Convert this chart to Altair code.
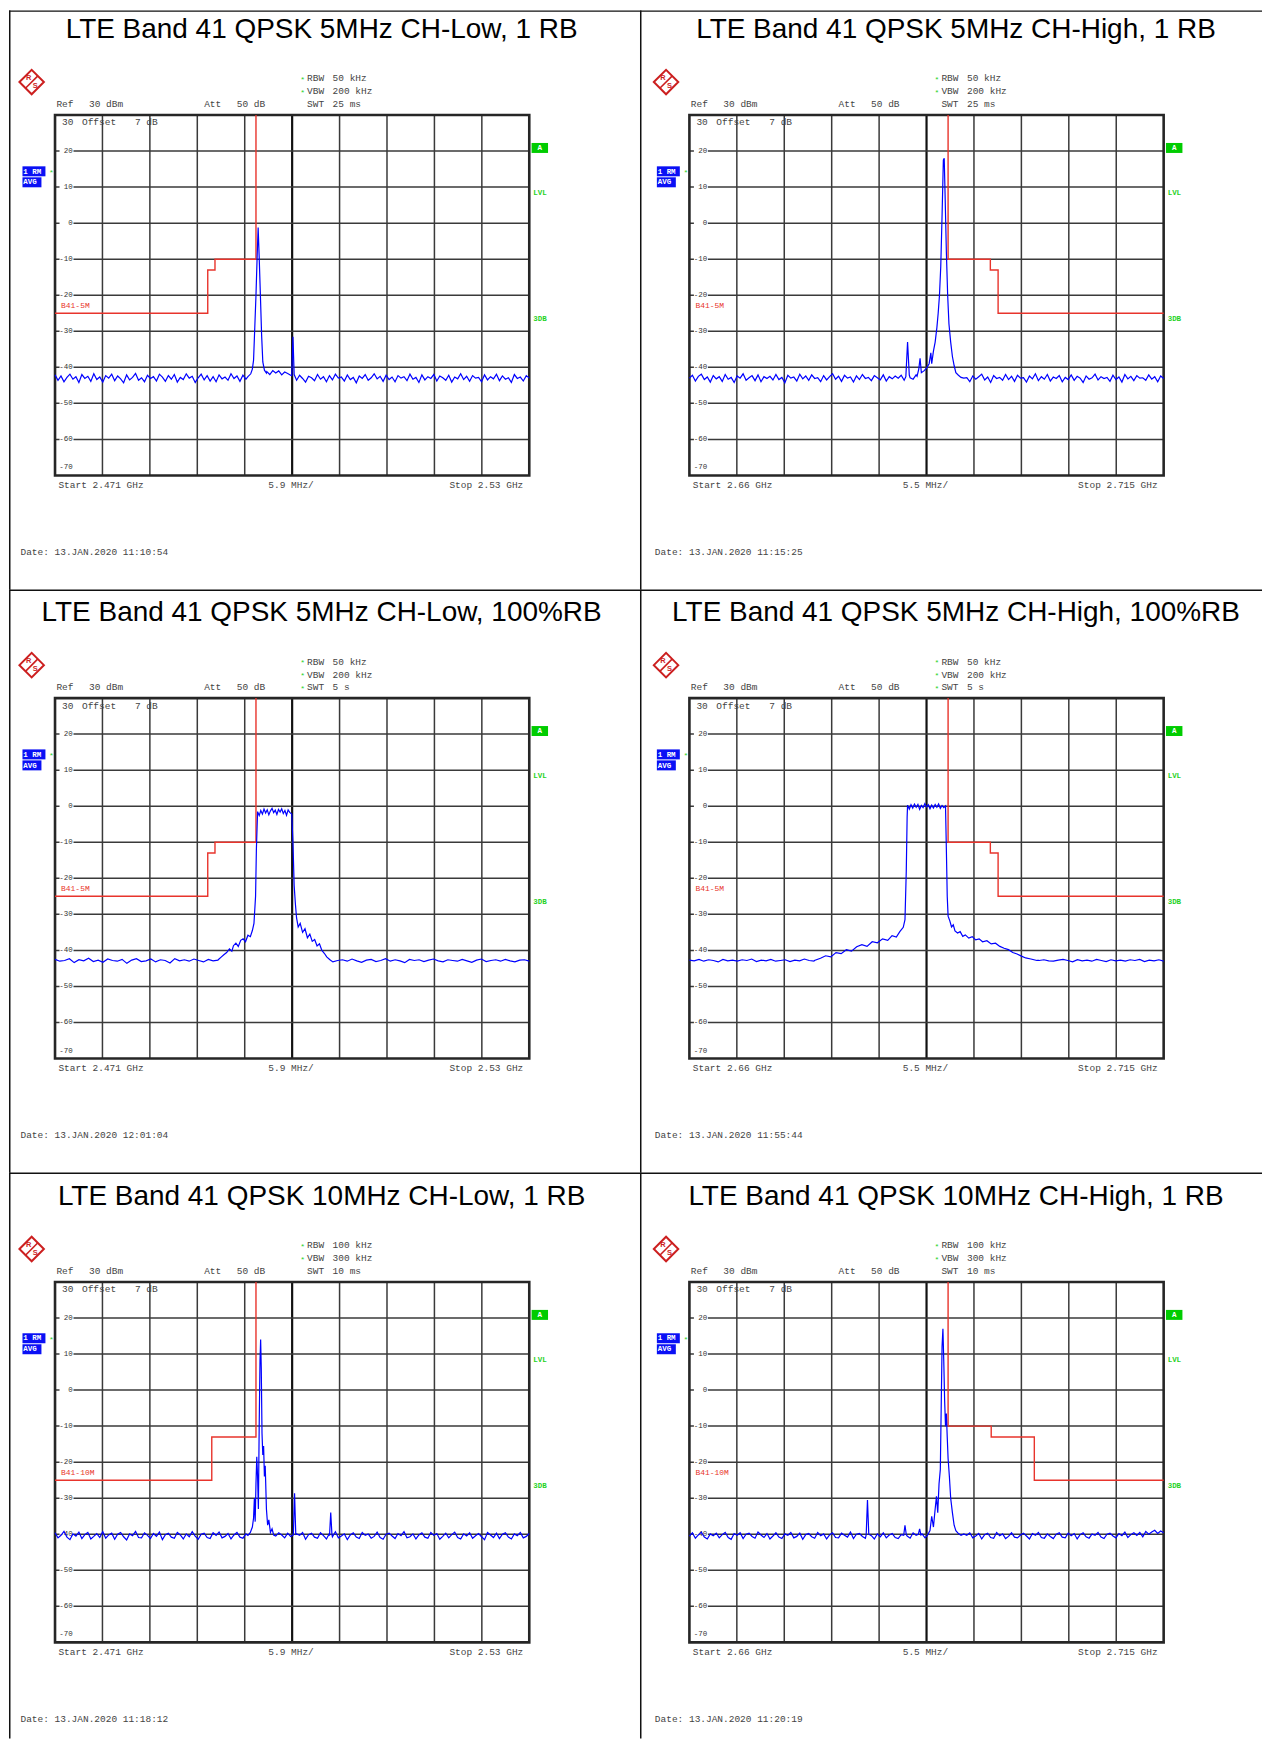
import altair as alt
import pandas as pd

# ---------------- panel texts ----------------
TITLES = [
    "LTE Band 41 QPSK 5MHz CH-Low, 1 RB",
    "LTE Band 41 QPSK 5MHz CH-High, 1 RB",
    "LTE Band 41 QPSK 5MHz CH-Low, 100%RB",
    "LTE Band 41 QPSK 5MHz CH-High, 100%RB",
    "LTE Band 41 QPSK 10MHz CH-Low, 1 RB",
    "LTE Band 41 QPSK 10MHz CH-High, 1 RB",
]
F_START = [2471, 2660, 2471, 2660, 2471, 2660]   # MHz
F_STOP = [2530, 2715, 2530, 2715, 2530, 2715]    # MHz
START_TXT = ["Start 2.471 GHz", "Start 2.66 GHz"] * 3
STOP_TXT = ["Stop 2.53 GHz", "Stop 2.715 GHz"] * 3
SPAN_TXT = ["5.9 MHz/", "5.5 MHz/"] * 3
RBW_TXT = ["50 kHz", "50 kHz", "50 kHz", "50 kHz", "100 kHz", "100 kHz"]
VBW_TXT = ["200 kHz", "200 kHz", "200 kHz", "200 kHz", "300 kHz", "300 kHz"]
SWT_TXT = ["25 ms", "25 ms", "5 s", "5 s", "10 ms", "10 ms"]
SWT_STAR = [False, False, True, True, False, False]
DATE_TXT = [
    "Date: 13.JAN.2020  11:10:54",
    "Date: 13.JAN.2020  11:15:25",
    "Date: 13.JAN.2020  12:01:04",
    "Date: 13.JAN.2020  11:55:44",
    "Date: 13.JAN.2020  11:18:12",
    "Date: 13.JAN.2020  11:20:19",
]
LIMIT_NAME = ["B41-5M", "B41-5M", "B41-5M", "B41-5M", "B41-10M", "B41-10M"]
Y_TICKS = [30, 20, 10, 0, -10, -20, -30, -40, -50, -60, -70]

# ---------------- limit lines ----------------
LOW5_F = [2471, 2490.0, 2490.0, 2490.9, 2490.9, 2496.0, 2496.0]
LOW5_DB = [-25, -25, -13, -13, -10, -10, 30]
HIGH5_F = [2690.0, 2690.0, 2694.9, 2694.9, 2695.8, 2695.8, 2715]
HIGH5_DB = [30, -10, -10, -13, -13, -25, -25]
LOW10_F = [2471, 2490.5, 2490.5, 2496.0, 2496.0]
LOW10_DB = [-25, -25, -13, -13, 30]
HIGH10_F = [2690.0, 2690.0, 2695.0, 2695.0, 2700.0, 2700.0, 2715]
HIGH10_DB = [30, -10, -10, -13, -13, -25, -25]

# ---------------- traces: noise floors (uniform sweep points, dBm) ----------------
P1_FLOOR = [
    -42.1, -43.6, -42.4, -44.0, -42.8, -41.9, -43.3, -42.6, -44.2, -42.0,
    -43.1, -42.5, -43.9, -41.8, -43.4, -42.7, -44.1, -42.3, -43.0, -41.9,
    -43.7, -42.4, -43.2, -44.3, -42.1, -43.5, -42.8, -41.7, -43.6, -42.9,
    -44.0, -42.2, -43.1, -42.6, -43.8, -41.9, -42.7, -43.9, -42.3, -43.3,
    -42.0, -44.1, -42.8, -43.4, -41.8, -43.0, -42.5, -44.2, -42.9, -41.9,
    -43.5, -42.3, -43.8, -42.6, -44.0, -42.1, -43.2, -42.7, -43.6, -41.8,
    -43.1, -42.4, -43.9, -42.2, -43.3, -42.8, -41.9, -43.5, -42.6, -43.0,
    -41.8, -41.2, -42.0, -40.9, -41.6, -41.0, -42.1, -41.3, -41.7, -42.2,
    -42.9, -43.6, -42.2, -43.1, -44.1, -42.5, -42.9, -43.7, -42.0, -43.3,
    -42.6, -44.0, -42.3, -43.5, -41.9, -43.0, -42.7, -43.8, -42.1, -43.4,
    -42.8, -44.3, -42.4, -43.1, -42.0, -43.6, -42.9, -41.8, -43.2, -42.5,
    -43.9, -42.2, -43.4, -42.7, -44.0, -42.3, -43.0, -42.6, -43.7, -41.9,
    -43.3, -42.8, -44.2, -42.1, -43.5, -42.6, -43.1, -42.0, -43.8, -42.4,
    -42.9, -43.6, -42.2, -44.1, -42.7, -43.2, -41.8, -43.4, -42.5, -43.9,
    -42.3, -43.0, -42.8, -44.0, -42.1, -43.5, -42.6, -43.2, -41.9, -43.7,
    -42.4, -43.3, -42.9, -44.2, -42.0, -43.1, -42.7, -43.8, -42.3, -43.0,
]
P2_FLOOR = [
    -43.0, -42.2, -43.8, -42.5, -41.9, -43.4, -42.7, -44.1, -42.3, -43.2,
    -42.6, -43.9, -42.0, -43.3, -42.8, -44.2, -42.4, -43.0, -41.8, -43.6,
    -42.9, -42.3, -43.7, -42.1, -44.0, -42.6, -43.1, -42.5, -43.5, -42.0,
    -43.4, -42.8, -44.3, -42.2, -43.0, -42.7, -43.8, -41.9, -43.2, -42.4,
    -43.6, -42.1, -43.1, -42.9, -44.0, -42.3, -43.5, -42.6, -41.8, -43.3,
    -42.5, -43.9, -42.2, -43.0, -42.7, -44.1, -42.4, -43.4, -42.0, -43.1,
    -42.8, -43.7, -42.3, -42.9, -43.5, -42.1, -43.8, -42.6, -43.2, -42.4,
    -43.0, -42.2, -43.6, -42.7, -42.9, -43.3, -42.1, -43.7, -42.5, -43.0,
    -42.6, -43.4, -42.8, -42.2, -43.1, -42.7, -43.9, -42.3, -43.2, -42.5,
    -43.8, -42.1, -43.0, -42.9, -44.0, -42.4, -43.3, -42.6, -41.9, -43.5,
    -42.7, -44.2, -42.3, -43.1, -42.8, -43.6, -42.0, -43.4, -42.5, -43.9,
    -42.2, -43.0, -42.9, -44.1, -42.4, -43.2, -41.8, -43.7, -42.6, -43.3,
    -42.0, -43.8, -42.7, -43.1, -42.3, -44.0, -42.8, -43.4, -42.1, -43.6,
    -42.5, -43.0, -44.2, -42.4, -43.3, -42.9, -41.9, -43.5, -42.6, -43.1,
    -42.8, -43.9, -42.2, -43.4, -42.7, -44.1, -42.0, -43.2, -42.5, -43.7,
    -42.3, -43.0, -42.9, -43.6, -42.1, -43.3, -42.6, -44.0, -42.4, -43.1,
]
P3_FLOOR = [
    -42.5, -43.0, -42.8, -42.3, -43.4, -42.6, -42.9, -42.2, -43.1, -42.7,
    -43.3, -42.4, -42.8, -43.0, -42.5, -43.6, -42.7, -42.3, -43.1, -42.9,
    -42.4, -43.2, -42.6, -42.8, -43.5, -42.3, -42.9, -42.6, -43.0, -42.4,
    -42.8, -43.2, -42.5, -42.9, -42.7, -43.1, -42.4, -42.8, -43.3, -42.6,
    -42.9, -42.5, -43.0, -42.7, -42.4, -43.2, -42.8, -42.6, -43.1, -42.5,
    -42.8, -43.3, -42.6, -42.9, -42.4, -43.0, -42.7, -42.5, -43.2, -42.8,
    -42.6, -43.0, -42.4, -42.9, -43.3, -42.7, -42.5, -43.1, -42.8, -42.3,
    -43.0, -42.6, -42.9, -43.4, -42.5, -42.8, -42.6, -43.1, -42.7, -42.4,
    -42.9, -43.2, -42.6, -42.8, -43.0, -42.5, -42.9, -43.3, -42.7, -42.4,
    -43.1, -42.8, -42.6, -43.0, -42.5, -42.9, -43.2, -42.7, -42.6, -43.0,
]
P4_FLOOR = [
    -42.7, -42.9, -42.5, -43.0, -42.6, -42.8, -43.2, -42.5, -42.9, -42.7,
    -43.0, -42.6, -42.8, -42.4, -43.1, -42.7, -42.9, -42.5, -43.0, -42.8,
    -42.6, -43.1, -42.7, -42.9, -42.4, -42.8, -43.0, -42.6, -42.9, -42.5,
    -43.2, -42.7, -42.8, -42.6, -43.0, -42.5, -42.9, -42.7, -43.1, -42.6,
    -42.8, -42.4, -43.0, -42.7, -42.9, -42.5, -42.8, -43.1, -42.6, -42.9,
    -42.7, -43.0, -42.5, -42.8, -42.6, -43.2, -42.7, -42.9, -42.4, -42.8,
    -43.0, -42.6, -42.9, -42.7, -43.1, -42.5, -42.8, -42.6, -43.0, -42.7,
    -42.9, -42.5, -43.1, -42.8, -42.6, -42.9, -43.0, -42.7, -42.5, -42.8,
    -43.2, -42.6, -42.9, -42.7, -43.0, -42.5, -42.8, -43.1, -42.6, -42.9,
    -42.7, -43.0, -42.6, -42.8, -42.5, -43.1, -42.7, -42.9, -42.6, -43.0,
]
P5_FLOOR = [
    -39.6, -41.0, -40.3, -39.2, -40.8, -41.5, -39.9, -40.5, -39.4, -41.2,
    -40.1, -39.5, -41.3, -40.6, -39.8, -40.9, -39.3, -41.1, -40.2, -39.7,
    -41.4, -40.0, -39.5, -40.7, -41.6, -39.9, -40.4, -39.2, -40.9, -41.0,
    -39.6, -40.3, -41.2, -39.8, -40.6, -39.4, -41.5, -40.1, -39.7, -40.8,
    -41.1, -39.5, -40.2, -41.3, -39.9, -40.7, -39.3, -40.5, -41.4, -40.0,
    -39.7, -40.9, -41.2, -39.6, -40.3, -39.4, -41.0, -40.6, -39.8, -41.3,
    -40.2, -39.5, -40.8, -41.1, -39.9, -40.4, -39.6, -41.2, -40.0, -40.7,
    -39.4, -40.9, -41.3, -39.8, -40.5, -39.6, -40.2, -41.0, -39.7, -40.6,
    -41.2, -39.9, -40.3, -39.5, -41.4, -40.1, -39.7, -40.8, -41.1, -39.6,
    -40.4, -41.3, -39.8, -40.7, -39.3, -41.0, -40.5, -39.9, -41.5, -40.2,
    -39.6, -40.8, -41.2, -39.5, -40.3, -39.9, -41.1, -40.6, -39.4, -40.9,
    -41.4, -40.0, -39.7, -40.5, -41.2, -39.8, -40.4, -39.3, -41.0, -40.7,
    -39.9, -41.3, -40.2, -39.6, -40.8, -41.1, -39.5, -40.3, -39.8, -41.4,
    -40.6, -39.7, -41.0, -40.1, -39.4, -40.9, -41.3, -39.9, -40.5, -39.6,
    -41.1, -40.4, -39.8, -40.7, -41.5, -39.5, -40.2, -40.9, -39.7, -41.2,
    -40.0, -39.6, -40.8, -41.3, -39.9, -40.4, -39.5, -41.0, -40.6, -39.8,
]
P6_FLOOR = [
    -40.5, -39.6, -41.1, -40.2, -39.4, -40.8, -41.3, -39.9, -40.4, -39.7,
    -41.0, -40.1, -39.5, -40.9, -41.4, -39.8, -40.3, -39.6, -41.2, -40.0,
    -39.7, -40.6, -41.1, -39.4, -40.2, -40.9, -39.8, -41.3, -40.5, -39.6,
    -40.8, -41.2, -39.9, -40.3, -39.5, -41.0, -40.6, -39.7, -41.4, -40.1,
    -39.8, -40.7, -41.1, -39.5, -40.4, -39.9, -41.3, -40.2, -39.6, -40.9,
    -41.0, -39.7, -40.3, -40.8, -39.4, -41.2, -40.0, -39.8, -40.6, -41.1,
    -39.5, -40.4, -41.3, -39.9, -40.7, -39.6, -41.0, -40.2, -39.8, -40.9,
    -41.2, -40.1, -39.7, -40.5, -41.1, -39.6, -40.3, -40.8, -39.9, -41.0,
    -40.2, -39.6, -40.9, -41.3, -40.0, -39.7, -40.6, -41.1, -39.5, -40.4,
    -40.8, -41.2, -39.9, -40.3, -39.6, -41.0, -40.5, -39.8, -41.3, -40.1,
    -39.7, -40.9, -41.1, -39.5, -40.4, -39.9, -41.2, -40.6, -39.6, -40.8,
    -41.0, -40.2, -39.7, -40.5, -41.3, -39.8, -40.3, -39.5, -40.9, -41.1,
    -39.9, -40.6, -41.2, -40.0, -39.6, -40.8, -41.0, -39.7, -40.4, -39.8,
    -41.3, -40.1, -39.6, -40.7, -41.1, -39.9, -40.3, -39.5, -40.8, -41.2,
    -40.0, -39.7, -40.5, -41.0, -39.8, -40.4, -39.4, -40.9, -40.1, -39.6,
    -40.3, -39.5, -40.7, -39.2, -40.0, -39.4, -38.9, -39.8, -39.1, -39.6,
]

# ---------------- traces: signal segments (freq MHz, level dBm) ----------------
P1_PEAK_F = [2495.0, 2495.35, 2495.55, 2495.7, 2495.85, 2496.0, 2496.15, 2496.27,
             2496.4, 2496.55, 2496.7, 2496.85, 2497.05, 2497.3]
P1_PEAK_DB = [-42.6, -41.8, -40.5, -38.0, -29.0, -20.0, -9.0, -1.2,
              -9.5, -20.0, -31.0, -38.5, -40.8, -41.6]
P1_SPUR_F = [2500.45, 2500.6, 2500.75]
P1_SPUR_DB = [-42.3, -31.5, -42.0]

P2_SPUR_F = [2685.1, 2685.3, 2685.5]
P2_SPUR_DB = [-42.6, -33.0, -42.2]
P2_PEAK_F = [2686.4, 2686.6, 2686.75, 2686.9, 2687.2, 2687.5, 2687.8, 2688.0, 2688.1,
             2688.3, 2688.5, 2688.7, 2688.85, 2689.0, 2689.15, 2689.3, 2689.45, 2689.55,
             2689.65, 2689.8, 2689.95, 2690.1, 2690.3, 2690.5, 2690.7, 2690.9, 2691.2, 2691.5]
P2_PEAK_DB = [-42.5, -40.5, -37.5, -41.5, -41.0, -40.2, -39.0, -36.0, -39.0,
              -35.5, -33.0, -29.0, -25.0, -20.0, -12.0, 2.0, 17.5, 18.0,
              8.0, -8.0, -20.0, -28.0, -33.0, -37.0, -39.5, -41.5, -42.2, -42.8]

P3_SIG_F = [2491.3, 2491.7, 2492.0, 2492.35, 2492.7, 2493.0, 2493.2, 2493.5, 2493.8,
            2494.1, 2494.4, 2494.7, 2495.0, 2495.3, 2495.55, 2495.75, 2495.95, 2496.05,
            2496.2, 2496.4, 2496.6, 2496.8, 2497.0, 2497.2, 2497.4, 2497.6, 2497.8,
            2498.0, 2498.2, 2498.4, 2498.6, 2498.8, 2499.0, 2499.2, 2499.4, 2499.6,
            2499.8, 2500.0, 2500.2, 2500.45, 2500.6, 2500.75, 2500.9, 2501.05, 2501.25,
            2501.5, 2501.8, 2502.1, 2502.4, 2502.7, 2503.0, 2503.3, 2503.6, 2503.9,
            2504.2, 2504.5, 2504.8, 2505.2]
P3_SIG_DB = [-42.6, -41.8, -41.2, -40.6, -39.6, -40.2, -38.7, -38.0, -38.9,
             -37.2, -36.8, -37.6, -35.8, -36.2, -34.5, -32.5, -25.0, -12.0,
             -1.5, -2.6, -1.2, -2.2, -0.8, -1.9, -1.0, -2.4, -1.3,
             -0.6, -1.8, -1.1, -2.3, -0.9, -1.6, -0.7, -2.0, -1.2,
             -2.5, -1.0, -1.7, -2.2, -10.0, -22.0, -27.0, -31.0, -33.5,
             -32.5, -35.0, -34.0, -36.5, -35.5, -37.5, -37.0, -38.8, -38.2,
             -40.0, -40.8, -41.8, -42.6]

P4_SIG_F = [2674.5, 2675.2, 2675.8, 2676.4, 2677.0, 2677.6, 2678.2, 2678.8, 2679.4,
            2680.0, 2680.6, 2681.2, 2681.8, 2682.4, 2683.0, 2683.5, 2684.0, 2684.4,
            2684.8, 2685.0, 2685.15, 2685.25, 2685.3, 2685.5, 2685.7, 2685.9, 2686.1,
            2686.3, 2686.5, 2686.7, 2686.9, 2687.1, 2687.3, 2687.5, 2687.7, 2687.9,
            2688.1, 2688.3, 2688.5, 2688.7, 2688.9, 2689.1, 2689.3, 2689.5, 2689.7,
            2689.8, 2689.9, 2690.0, 2690.2, 2690.4, 2690.6, 2690.8, 2691.1, 2691.4,
            2691.7, 2692.0, 2692.4, 2692.8, 2693.2, 2693.6, 2694.0, 2694.5, 2695.0,
            2695.5, 2696.0, 2696.5, 2697.0, 2697.5, 2698.0, 2698.5, 2699.0, 2699.6, 2700.3]
P4_SIG_DB = [-42.8, -42.2, -41.5, -41.8, -40.6, -40.9, -39.8, -40.2, -39.0,
             -38.4, -38.9, -37.6, -37.9, -36.8, -37.2, -35.9, -36.3, -34.8,
             -33.6, -31.5, -18.0, -3.0, 0.3, -0.8, 0.4, -0.5, 0.6,
             -0.3, 0.5, -0.9, 0.2, -0.4, 0.7, -0.2, 0.4, -0.7,
             0.3, -0.5, 0.5, -0.3, 0.6, -0.6, 0.2, -0.4, 0.1,
             -12.0, -25.0, -30.5, -31.8, -33.5, -32.9, -34.6, -35.2, -34.8,
             -36.1, -35.7, -36.6, -36.2, -37.1, -36.8, -37.6, -37.3, -38.2,
             -38.0, -38.9, -39.4, -39.8, -40.6, -41.0, -41.6, -42.1, -42.4, -42.8]

P5_PEAK_F = [2495.0, 2495.3, 2495.55, 2495.7, 2495.8, 2495.9, 2496.0, 2496.1, 2496.2,
             2496.3, 2496.4, 2496.5, 2496.58, 2496.66, 2496.75, 2496.85, 2496.95, 2497.05,
             2497.15, 2497.3, 2497.45, 2497.6, 2497.8, 2498.0, 2498.2]
P5_PEAK_DB = [-40.3, -39.5, -38.0, -35.5, -30.0, -36.5, -26.0, -18.5, -24.0,
              -33.0, -10.0, 8.0, 14.0, 6.0, -12.0, -18.0, -15.5, -24.0,
              -21.0, -33.0, -37.5, -36.0, -39.5, -38.5, -40.2]
P5_SPUR1_F = [2500.65, 2500.8, 2500.95]
P5_SPUR1_DB = [-40.2, -28.6, -40.0]
P5_SPUR2_F = [2505.15, 2505.3, 2505.45]
P5_SPUR2_DB = [-40.4, -34.0, -40.1]

P6_SPUR1_F = [2680.5, 2680.65, 2680.8]
P6_SPUR1_DB = [-40.2, -30.5, -40.0]
P6_SPUR2_F = [2684.85, 2685.0, 2685.15]
P6_SPUR2_DB = [-40.3, -37.5, -40.1]
P6_SPUR3_F = [2686.55, 2686.7, 2686.85]
P6_SPUR3_DB = [-40.0, -38.5, -40.2]
P6_PEAK_F = [2687.6, 2687.9, 2688.1, 2688.3, 2688.5, 2688.65, 2688.8, 2688.95, 2689.1,
             2689.2, 2689.3, 2689.4, 2689.5, 2689.6, 2689.7, 2689.8, 2689.9, 2690.0,
             2690.15, 2690.3, 2690.5, 2690.7, 2690.9, 2691.2, 2691.5]
P6_PEAK_DB = [-40.3, -39.0, -35.0, -38.0, -33.0, -29.5, -34.0, -26.0, -22.0,
              -5.0, 12.0, 17.0, 8.0, -3.0, -10.0, -6.5, -13.0, -19.0,
              -24.0, -30.0, -34.0, -37.5, -39.0, -39.8, -40.3]

FLOORS = [P1_FLOOR, P2_FLOOR, P3_FLOOR, P4_FLOOR, P5_FLOOR, P6_FLOOR]
SEGMENTS = [
    [(P1_PEAK_F, P1_PEAK_DB), (P1_SPUR_F, P1_SPUR_DB)],
    [(P2_SPUR_F, P2_SPUR_DB), (P2_PEAK_F, P2_PEAK_DB)],
    [(P3_SIG_F, P3_SIG_DB)],
    [(P4_SIG_F, P4_SIG_DB)],
    [(P5_PEAK_F, P5_PEAK_DB), (P5_SPUR1_F, P5_SPUR1_DB), (P5_SPUR2_F, P5_SPUR2_DB)],
    [(P6_SPUR1_F, P6_SPUR1_DB), (P6_SPUR2_F, P6_SPUR2_DB), (P6_SPUR3_F, P6_SPUR3_DB),
     (P6_PEAK_F, P6_PEAK_DB)],
]
LIMITS = [(LOW5_F, LOW5_DB), (HIGH5_F, HIGH5_DB), (LOW5_F, LOW5_DB),
          (HIGH5_F, HIGH5_DB), (LOW10_F, LOW10_DB), (HIGH10_F, HIGH10_DB)]

# ---------------- styling / layout ----------------
MONO = "Liberation Mono"
SANS = "Liberation Sans"
TXT = "#444444"
GREEN = "#1fd21f"
BLUE_BOX = "#0a10f5"
RED = "#e8342c"

COL_W = [632, 623]
COL_DX = [-2.9, 0.5]
ROW_H = [580, 584, 567]
ROW_DY = [-4.5, -0.5, 0.3]


def trace_df(i):
    start, stop = F_START[i], F_STOP[i]
    floor = FLOORS[i]
    n = len(floor)
    segs = SEGMENTS[i]
    ranges = [(min(f), max(f)) for f, d in segs]
    rows = []
    for k, v in enumerate(floor):
        f = start + (stop - start) * k / (n - 1)
        if any(lo <= f <= hi for lo, hi in ranges):
            continue
        rows.append((f, v))
    for f, d in segs:
        rows.extend(zip(f, d))
    rows.sort()
    return pd.DataFrame(rows, columns=["f", "db"])


def panel(i, W, H, dx, dy):
    ONE = pd.DataFrame({"panel": [i]})

    def T(s, x, y, size=9.5, color=TXT, align="left", font=MONO, weight="normal",
          baseline="middle"):
        return alt.Chart(ONE).mark_text(
            text=s, align=align, baseline=baseline, font=font, fontSize=size,
            color=color, fontWeight=weight
        ).encode(x=alt.value(x), y=alt.value(y))

    def box(x1, x2, y1, y2, color):
        return alt.Chart(ONE).mark_rect(color=color).encode(
            x=alt.value(x1), x2=alt.value(x2), y=alt.value(y1), y2=alt.value(y2))

    def seg(x1, y1, x2, y2, color, w):
        return alt.Chart(ONE).mark_rule(color=color, strokeWidth=w).encode(
            x=alt.value(x1), x2=alt.value(x2), y=alt.value(y1), y2=alt.value(y2))

    PL = 49.0 + dx
    PT = 109.3 + dy
    PR = PL + 475.0
    PB = PT + 361.0
    s0, s1 = F_START[i], F_STOP[i]
    xs = alt.Scale(domain=[s0, s1], range=[PL, PR], nice=False, zero=False)
    ys = alt.Scale(domain=[-70, 30], range=[PB, PT], nice=False, zero=False)

    def X(fld):
        return alt.X(fld, type="quantitative", scale=xs, axis=None)

    def Y(fld):
        return alt.Y(fld, type="quantitative", scale=ys, axis=None)

    L = []
    # cell frame (left and top edges)
    L.append(seg(0.75, 0, 0.75, H, "#111111", 1.5))
    L.append(seg(0, 0.75, W, 0.75, "#111111", 1.5))
    # title
    L.append(T(TITLES[i], PL + 267, PT - 77.0, size=28, color="#000000", align="center",
               font=SANS, baseline="alphabetic"))
    # R&S logo
    cx, cy = PL - 23.4, PT - 33.0
    L.append(alt.Chart(ONE).mark_point(shape="diamond", filled=False, color="#cc1f1f",
                                       strokeWidth=2.0, size=600, opacity=1).encode(
        x=alt.value(cx), y=alt.value(cy)))
    L.append(seg(cx + 6, cy - 6, cx - 6, cy + 6, "#cc1f1f", 1.6))
    L.append(T("R", cx - 3.0, cy - 4.0, size=7.5, color="#cc1f1f", align="center",
               font=SANS, weight="bold"))
    L.append(T("S", cx + 3.5, cy + 4.0, size=7.5, color="#cc1f1f", align="center",
               font=SANS, weight="bold"))
    # header
    L.append(T("*", PL + 245.5, PT - 35.0, size=8, color=GREEN))
    L.append(T("*", PL + 245.5, PT - 22.0, size=8, color=GREEN))
    if SWT_STAR[i]:
        L.append(T("*", PL + 245.5, PT - 9.4, size=8, color=GREEN))
    L.append(T("RBW", PL + 252.4, PT - 36.6))
    L.append(T(RBW_TXT[i], PL + 278.0, PT - 36.6))
    L.append(T("VBW", PL + 252.4, PT - 23.6))
    L.append(T(VBW_TXT[i], PL + 278.0, PT - 23.6))
    L.append(T("SWT", PL + 252.4, PT - 11.0))
    L.append(T(SWT_TXT[i], PL + 278.0, PT - 11.0))
    L.append(T("Ref", PL + 1.4, PT - 11.0))
    L.append(T("30 dBm", PL + 34.0, PT - 11.0))
    L.append(T("Att", PL + 149.4, PT - 11.0))
    L.append(T("50 dB", PL + 182.0, PT - 11.0))
    # trace marker boxes
    L.append(box(PL - 32.6, PL - 9.6, PT + 51.4, PT + 61.4, BLUE_BOX))
    L.append(T("1 RM", PL - 31.8, PT + 56.6, size=7.5, color="white", weight="bold"))
    L.append(box(PL - 32.6, PL - 13.6, PT + 62.4, PT + 72.4, BLUE_BOX))
    L.append(T("AVG", PL - 31.8, PT + 67.6, size=7.5, color="white", weight="bold"))
    L.append(T("*", PL - 6.0, PT + 58.0, size=8, color=GREEN))
    L.append(box(PR + 2.3, PR + 18.8, PT + 28.0, PT + 38.0, "#00cc00"))
    L.append(T("A", PR + 10.5, PT + 33.2, size=7.5, color="white", align="center",
               weight="bold"))
    L.append(T("LVL", PR + 4.0, PT + 78.0, size=7.5, color=GREEN, weight="bold"))
    L.append(T("3DB", PR + 4.0, PT + 204.0, size=7.5, color=GREEN, weight="bold"))

    # grid
    vg = pd.DataFrame({"f": [s0 + (s1 - s0) * k / 10 for k in (1, 2, 3, 4, 6, 7, 8, 9)],
                       "lo": -70, "hi": 30, "panel": i})
    L.append(alt.Chart(vg).mark_rule(color="#3a3a3a", strokeWidth=1.5).encode(
        x=X("f"), y=Y("lo"), y2="hi"))
    vc = pd.DataFrame({"f": [s0 + (s1 - s0) / 2], "lo": [-70], "hi": [30], "panel": [i]})
    L.append(alt.Chart(vc).mark_rule(color="#111111", strokeWidth=2.2).encode(
        x=X("f"), y=Y("lo"), y2="hi"))
    hg = pd.DataFrame({"db": Y_TICKS[1:-1], "a": s0, "b": s1, "panel": i})
    L.append(alt.Chart(hg).mark_rule(color="#3a3a3a", strokeWidth=1.5).encode(
        x=X("a"), x2="b", y=Y("db")))
    bx = pd.DataFrame({"a": [s0], "b": [s1], "lo": [-70], "hi": [30], "panel": [i]})
    L.append(alt.Chart(bx).mark_rect(fillOpacity=0, stroke="#262626", strokeWidth=2.6).encode(
        x=X("a"), x2="b", y=Y("lo"), y2="hi"))
    # y labels inside the box
    yl = pd.DataFrame({"db": Y_TICKS[1:-1], "lab": [str(v) for v in Y_TICKS[1:-1]],
                       "panel": i})
    L.append(alt.Chart(yl).mark_rule(color="white", strokeWidth=6).encode(
        y=Y("db"), x=alt.value(PL + 4.5), x2=alt.value(PL + 18.5)))
    L.append(alt.Chart(yl).mark_text(align="right", baseline="middle", font=MONO,
                                     fontSize=7.5, color="#333333").encode(
        y=Y("db"), x=alt.value(PL + 17.8), text="lab:N"))
    L.append(T(str(Y_TICKS[-1]), PL + 17.8, PB - 8.0, size=7.5, color="#333333",
               align="right"))
    L.append(T(str(Y_TICKS[0]), PL + 7.0, PT + 7.5))
    L.append(T("Offset", PL + 27.0, PT + 7.5))
    L.append(T("7 dB", PL + 80.0, PT + 7.5))
    # footer
    L.append(T(START_TXT[i], PL + 3.4, PB + 10.0))
    L.append(T(SPAN_TXT[i], PL + 236.4, PB + 10.0, align="center"))
    L.append(T(STOP_TXT[i], PL + 469.0, PB + 10.0, align="right"))
    L.append(T(DATE_TXT[i], PL - 34.6, PB + 76.5))
    # limit line
    lf, ld = LIMITS[i]
    lim = pd.DataFrame({"f": lf, "db": ld, "o": list(range(len(lf))), "panel": i})
    L.append(alt.Chart(lim).mark_line(color=RED, strokeWidth=1.4).encode(
        x=X("f"), y=Y("db"), order="o:Q"))
    L.append(T(LIMIT_NAME[i], PL + 6.0, PT + 55 * 3.61 - 7.0, size=8, color=RED))
    # trace
    tr = trace_df(i)
    tr["panel"] = i
    L.append(alt.Chart(tr).mark_line(color="#0000ff", strokeWidth=1.2).encode(
        x=X("f"), y=Y("db")))

    return alt.layer(*L).properties(width=W, height=H)


cells = []
for r in range(3):
    for c in range(2):
        cells.append(panel(2 * r + c, COL_W[c], ROW_H[r], COL_DX[c], ROW_DY[r]))

chart = (
    alt.concat(*cells, columns=2, spacing=0, bounds="flush")
    .properties(padding=0)
    .configure(background="white")
    .configure_view(stroke="transparent", strokeWidth=0)
)

chart.save("out.html", embed_options={"renderer": "svg", "actions": False})
